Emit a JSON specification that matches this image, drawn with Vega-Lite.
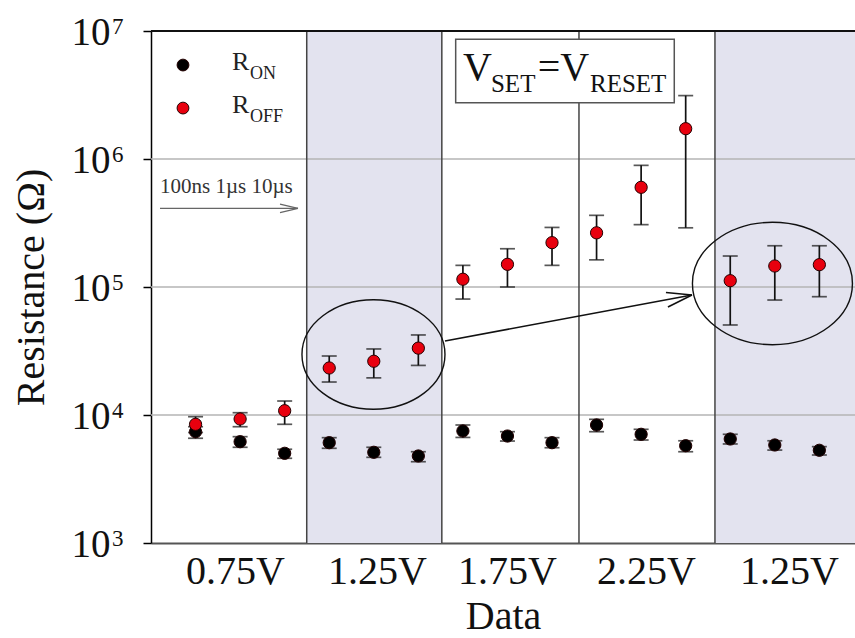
{
  "$schema": "https://vega.github.io/schema/vega-lite/v6.json",
  "width": 704,
  "height": 512,
  "autosize": {"type": "none"},
  "padding": {"left": 151, "top": 31, "right": 0, "bottom": 95},
  "background": "white",
  "config": {
    "view": {"stroke": null},
    "font": "Liberation Serif",
    "text": {"font": "Liberation Serif"}
  },
  "datasets": {
    "pts": [
      {"i": 1, "type": "ON", "v": 7405, "lo": 6580, "hi": 8100},
      {"i": 2, "type": "ON", "v": 6185, "lo": 5595, "hi": 6770},
      {"i": 3, "type": "ON", "v": 5020, "lo": 4590, "hi": 5400},
      {"i": 4, "type": "ON", "v": 6076, "lo": 5494, "hi": 6650},
      {"i": 5, "type": "ON", "v": 5113, "lo": 4670, "hi": 5595},
      {"i": 6, "type": "ON", "v": 4783, "lo": 4316, "hi": 5165},
      {"i": 7, "type": "ON", "v": 7500, "lo": 6680, "hi": 8354},
      {"i": 8, "type": "ON", "v": 6850, "lo": 6260, "hi": 7405},
      {"i": 9, "type": "ON", "v": 6076, "lo": 5550, "hi": 6650},
      {"i": 10, "type": "ON", "v": 8354, "lo": 7405, "hi": 9250},
      {"i": 11, "type": "ON", "v": 7067, "lo": 6376, "hi": 7730},
      {"i": 12, "type": "ON", "v": 5755, "lo": 5165, "hi": 6290},
      {"i": 13, "type": "ON", "v": 6494, "lo": 5940, "hi": 7067},
      {"i": 14, "type": "ON", "v": 5831, "lo": 5320, "hi": 6290},
      {"i": 15, "type": "ON", "v": 5300, "lo": 4870, "hi": 5660},
      {"i": 1, "type": "OFF", "v": 8460, "lo": 7300, "hi": 9700},
      {"i": 2, "type": "OFF", "v": 9306, "lo": 8100, "hi": 10420},
      {"i": 3, "type": "OFF", "v": 10800, "lo": 8460, "hi": 12860},
      {"i": 4, "type": "OFF", "v": 23300, "lo": 18100, "hi": 28900},
      {"i": 5, "type": "OFF", "v": 26300, "lo": 19500, "hi": 32800},
      {"i": 6, "type": "OFF", "v": 33300, "lo": 24400, "hi": 42200},
      {"i": 7, "type": "OFF", "v": 115000, "lo": 80500, "hi": 147600},
      {"i": 8, "type": "OFF", "v": 150400, "lo": 100000, "hi": 199000},
      {"i": 9, "type": "OFF", "v": 222000, "lo": 147600, "hi": 292000},
      {"i": 10, "type": "OFF", "v": 265000, "lo": 163000, "hi": 363000},
      {"i": 11, "type": "OFF", "v": 601000, "lo": 307000, "hi": 892000},
      {"i": 12, "type": "OFF", "v": 1725000, "lo": 290000, "hi": 3128000},
      {"i": 13, "type": "OFF", "v": 112000, "lo": 50500, "hi": 174600},
      {"i": 14, "type": "OFF", "v": 145900, "lo": 79100, "hi": 210000},
      {"i": 15, "type": "OFF", "v": 149400, "lo": 84000, "hi": 210000}
    ],
    "shade": [{"x": 3.495, "x2": 6.527}, {"x": 12.657, "x2": 15.8}],
    "seps": [{"x": 3.495}, {"x": 6.527}, {"x": 9.605}, {"x": 12.657}],
    "grid": [{"y": 10000}, {"y": 100000}, {"y": 1000000}],
    "exps": [{"y": 1000, "e": "3"}, {"y": 10000, "e": "4"}, {"y": 100000, "e": "5"}, {"y": 1000000, "e": "6"}, {"y": 10000000, "e": "7"}],
    "legend": [
      {"x": 0.718, "y": 5420000, "type": "ON", "tx": 1.818, "ty": 4958000, "main": "R", "sub": "ON"},
      {"x": 0.718, "y": 2500000, "type": "OFF", "tx": 1.818, "ty": 2286000, "main": "R", "sub": "OFF"}
    ],
    "arrows": [
      {"x": 6.598, "y": 37870, "x2": 12.141, "y2": 86600},
      {"x": 11.557, "y": 90600, "x2": 12.141, "y2": 86600},
      {"x": 11.602, "y": 69800, "x2": 12.141, "y2": 86600}
    ],
    "timearrow": [
      {"x": 0.202, "y": 412000, "x2": 3.299, "y2": 412000},
      {"x": 2.895, "y": 444600, "x2": 3.299, "y2": 412000},
      {"x": 2.895, "y": 380700, "x2": 3.299, "y2": 412000}
    ]
  },
  "layer": [
    {
      "data": {"name": "shade"},
      "mark": {"type": "rect", "color": "#e3e3ef"},
      "encoding": {
        "x": {"field": "x", "type": "quantitative", "scale": {"domain": [0, 15.8], "nice": false, "zero": false},
          "axis": {
            "values": [1.885, 5.07, 7.99, 11.11, 14.32],
            "labelExpr": "datum.value < 3 ? '0.75V' : datum.value < 6 ? '1.25V' : datum.value < 9 ? '1.75V' : datum.value < 12 ? '2.25V' : '1.25V'",
            "ticks": false, "tickSize": 0, "grid": false,
            "domainColor": "#555", "domainWidth": 2,
            "labelFont": "Liberation Serif", "labelFontSize": 40, "labelColor": "#111",
            "labelBaseline": "alphabetic", "labelPadding": 40, "labelFlush": false, "labelOverlap": false,
            "title": "Data", "titleFont": "Liberation Serif", "titleFontSize": 40, "titleFontWeight": "normal", "titleColor": "#111",
            "titleBaseline": "alphabetic", "titleY": 85
          }},
        "x2": {"field": "x2"}
      }
    },
    {
      "data": {"name": "grid"},
      "mark": {"type": "rule", "color": "#b4b4b4", "strokeWidth": 1.5},
      "encoding": {
        "y": {"field": "y", "type": "quantitative",
          "scale": {"type": "log", "domain": [1000, 10000000], "nice": false},
          "axis": {
            "values": [1000, 10000, 100000, 1000000, 10000000],
            "labelExpr": "'10'",
            "grid": false, "tickSize": 8, "tickColor": "#000", "tickWidth": 1.5,
            "domainColor": "#000", "domainWidth": 1.5,
            "labelFont": "Liberation Serif", "labelFontSize": 39, "labelColor": "#111",
            "labelBaseline": "alphabetic", "labelOffset": 13, "labelPadding": 33, "labelFlush": false, "labelOverlap": false,
            "title": "Resistance (Ω)", "titleFont": "Liberation Serif", "titleFontSize": 40, "titleFontWeight": "normal", "titleColor": "#111",
            "titleAngle": 270, "titleBaseline": "alphabetic", "titleAlign": "center", "titleX": -108, "titleY": 256
          }}
      }
    },
    {
      "data": {"name": "seps"},
      "mark": {"type": "rule", "color": "#444", "strokeWidth": 1.5},
      "encoding": {"x": {"field": "x", "type": "quantitative"}}
    },
    {
      "data": {"values": [{"x": 6.838, "x2": 11.744, "y": 8610000, "y2": 2754000}]},
      "mark": {"type": "rect", "fill": "white", "stroke": "#555", "strokeWidth": 1.5},
      "encoding": {
        "x": {"field": "x", "type": "quantitative"}, "x2": {"field": "x2"},
        "y": {"field": "y", "type": "quantitative"}, "y2": {"field": "y2"}
      }
    },
    {
      "data": {"values": [{"x": 7.002, "y": 4140000, "t": "V"}, {"x": 8.678, "y": 4140000, "t": "=V"}]},
      "mark": {"type": "text", "fontSize": 40, "align": "left", "baseline": "alphabetic", "color": "#111", "font": "Liberation Serif"},
      "encoding": {"x": {"field": "x", "type": "quantitative"}, "y": {"field": "y", "type": "quantitative"}, "text": {"field": "t"}}
    },
    {
      "data": {"values": [{"x": 7.63, "y": 3356000, "t": "SET"}, {"x": 9.852, "y": 3356000, "t": "RESET"}]},
      "mark": {"type": "text", "fontSize": 25, "align": "left", "baseline": "alphabetic", "color": "#111", "font": "Liberation Serif"},
      "encoding": {"x": {"field": "x", "type": "quantitative"}, "y": {"field": "y", "type": "quantitative"}, "text": {"field": "t"}}
    },
    {
      "data": {"values": [{"x": 4.993, "y": 29700}]},
      "mark": {"type": "point", "filled": false, "stroke": "#111", "strokeWidth": 1.4, "opacity": 1, "size": 20449,
        "shape": "M -1 0 C -1 -0.4225 -0.5523 -0.765 0 -0.765 C 0.5523 -0.765 1 -0.4225 1 0 C 1 0.4225 0.5523 0.765 0 0.765 C -0.5523 0.765 -1 0.4225 -1 0 Z"},
      "encoding": {"x": {"field": "x", "type": "quantitative"}, "y": {"field": "y", "type": "quantitative"}}
    },
    {
      "data": {"values": [{"x": 13.947, "y": 106500}]},
      "mark": {"type": "point", "filled": false, "stroke": "#111", "strokeWidth": 1.4, "opacity": 1, "size": 25600,
        "shape": "M -1 0 C -1 -0.4225 -0.5523 -0.765 0 -0.765 C 0.5523 -0.765 1 -0.4225 1 0 C 1 0.4225 0.5523 0.765 0 0.765 C -0.5523 0.765 -1 0.4225 -1 0 Z"},
      "encoding": {"x": {"field": "x", "type": "quantitative"}, "y": {"field": "y", "type": "quantitative"}}
    },
    {
      "data": {"name": "arrows"},
      "mark": {"type": "rule", "color": "#111", "strokeWidth": 1.6},
      "encoding": {
        "x": {"field": "x", "type": "quantitative"}, "x2": {"field": "x2"},
        "y": {"field": "y", "type": "quantitative"}, "y2": {"field": "y2"}
      }
    },
    {
      "data": {"name": "timearrow"},
      "mark": {"type": "rule", "color": "#666", "strokeWidth": 1.2},
      "encoding": {
        "x": {"field": "x", "type": "quantitative"}, "x2": {"field": "x2"},
        "y": {"field": "y", "type": "quantitative"}, "y2": {"field": "y2"}
      }
    },
    {
      "data": {"values": [{"x": 0.202, "y": 542000, "t": "100ns 1µs 10µs"}]},
      "mark": {"type": "text", "fontSize": 21, "align": "left", "baseline": "alphabetic", "color": "#333", "font": "Liberation Serif"},
      "encoding": {"x": {"field": "x", "type": "quantitative"}, "y": {"field": "y", "type": "quantitative"}, "text": {"field": "t"}}
    },
    {
      "data": {"name": "pts"},
      "mark": {"type": "rule", "color": "#111", "strokeWidth": 1.7},
      "encoding": {
        "x": {"field": "i", "type": "quantitative"},
        "y": {"field": "lo", "type": "quantitative"}, "y2": {"field": "hi"}
      }
    },
    {
      "data": {"name": "pts"},
      "mark": {"type": "tick", "orient": "horizontal", "color": "#111", "size": 15, "thickness": 1.7},
      "encoding": {"x": {"field": "i", "type": "quantitative"}, "y": {"field": "lo", "type": "quantitative"}}
    },
    {
      "data": {"name": "pts"},
      "mark": {"type": "tick", "orient": "horizontal", "color": "#111", "size": 15, "thickness": 1.7},
      "encoding": {"x": {"field": "i", "type": "quantitative"}, "y": {"field": "hi", "type": "quantitative"}}
    },
    {
      "data": {"name": "pts"},
      "mark": {"type": "point", "filled": true, "opacity": 1, "size": 150, "stroke": "#200", "strokeWidth": 1, "shape": "circle"},
      "encoding": {
        "x": {"field": "i", "type": "quantitative"},
        "y": {"field": "v", "type": "quantitative"},
        "fill": {"field": "type", "type": "nominal", "scale": {"domain": ["ON", "OFF"], "range": ["#000000", "#e8000e"]}, "legend": null},
        "color": {"field": "type", "type": "nominal", "scale": {"domain": ["ON", "OFF"], "range": ["#000000", "#e8000e"]}, "legend": null}
      }
    },
    {
      "data": {"name": "legend"},
      "mark": {"type": "point", "filled": true, "opacity": 1, "size": 140, "stroke": "#200", "strokeWidth": 1, "shape": "circle"},
      "encoding": {
        "x": {"field": "x", "type": "quantitative"},
        "y": {"field": "y", "type": "quantitative"},
        "fill": {"field": "type", "type": "nominal", "legend": null},
        "color": {"field": "type", "type": "nominal", "legend": null}
      }
    },
    {
      "data": {"name": "legend"},
      "mark": {"type": "text", "fontSize": 26, "align": "left", "baseline": "alphabetic", "color": "#222", "font": "Liberation Serif"},
      "encoding": {"x": {"field": "tx", "type": "quantitative"}, "y": {"field": "ty", "type": "quantitative"}, "text": {"field": "main"}}
    },
    {
      "data": {"name": "legend"},
      "mark": {"type": "text", "fontSize": 18, "align": "left", "baseline": "alphabetic", "color": "#222", "font": "Liberation Serif", "dx": 18, "dy": 8.5},
      "encoding": {"x": {"field": "tx", "type": "quantitative"}, "y": {"field": "ty", "type": "quantitative"}, "text": {"field": "sub"}}
    },
    {
      "data": {"name": "exps"},
      "mark": {"type": "text", "fontSize": 23, "align": "left", "baseline": "alphabetic", "color": "#111", "font": "Liberation Serif", "dx": -39, "dy": 3},
      "encoding": {"x": {"datum": 0, "type": "quantitative"}, "y": {"field": "y", "type": "quantitative"}, "text": {"field": "e"}}
    },
    {
      "data": {"values": [{}]},
      "mark": {"type": "rule", "color": "#111", "strokeWidth": 2.2},
      "encoding": {"y": {"datum": 10000000, "type": "quantitative"}}
    }
  ]
}
